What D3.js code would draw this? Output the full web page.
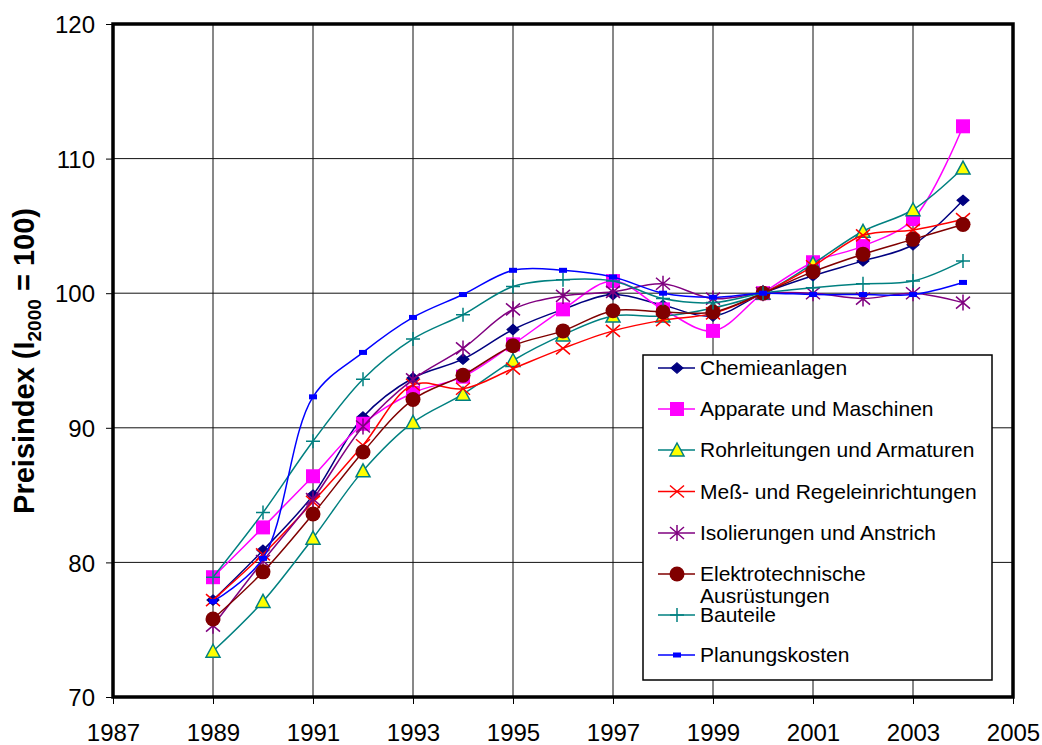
<!DOCTYPE html>
<html>
<head>
<meta charset="utf-8">
<script src="https://cdn.jsdelivr.net/npm/d3@7"></script>
<style>
body { margin: 0; background: #fff; }
text { font-family: "Liberation Sans", Arial, sans-serif; }
</style>
</head>
<body>
<div id="chart"></div>
<script>
// years and index values
var years = [1989,1990,1991,1992,1993,1994,1995,1996,1997,1998,1999,2000,2001,2002,2003,2004];

var chemieanlagen = [77.2,80.9,85.0,90.8,93.7,95.1,97.3,98.8,99.9,99.1,98.3,100,101.3,102.4,103.6,106.9];
var apparate      = [78.9,82.6,86.4,90.3,92.6,93.8,96.2,98.8,100.9,98.8,97.2,100,102.3,103.5,105.5,112.4];
var rohrleitungen = [73.4,77.1,81.8,86.8,90.4,92.5,95.0,96.9,98.3,98.3,98.9,100,102.2,104.6,106.2,109.3];
var messRegel     = [77.2,80.6,84.5,88.7,93.2,92.9,94.4,95.9,97.2,98.0,98.5,100,102.0,104.3,104.7,105.5];
var isolierungen  = [75.3,80.1,84.7,90.1,93.6,95.9,98.8,99.8,100.1,100.7,99.6,100,100.0,99.6,100.0,99.3];
var elektro       = [75.8,79.3,83.6,88.2,92.1,93.9,96.1,97.2,98.7,98.6,98.6,100,101.6,102.9,104.0,105.1];
var bauteile      = [78.9,83.7,89.0,93.6,96.6,98.4,100.5,101.0,100.9,99.6,99.3,100,100.4,100.7,100.9,102.4];
var planung       = [77.1,80.3,92.3,95.6,98.2,99.9,101.7,101.7,101.2,100.0,99.7,100,99.9,99.9,99.9,100.8];

var seriesNames = ["Chemieanlagen","Apparate und Maschinen","Rohrleitungen und Armaturen",
  "Meß- und Regeleinrichtungen","Isolierungen und Anstrich","Elektrotechnische\nAusrüstungen",
  "Bauteile","Planungskosten"];
var seriesValues = [chemieanlagen, apparate, rohrleitungen, messRegel, isolierungen, elektro, bauteile, planung];
var lineColors = ["#000080","#ff00ff","#008080","#ff0000","#800080","#800000","#008080","#0000ff"];
var markerTypes = ["diamond","square","triangle","x","star","circle","plus","dash"];

var xTicks = [1987,1989,1991,1993,1995,1997,1999,2001,2003,2005];
var yTicks = [70,80,90,100,110,120];

var width = 1042, height = 745;
var plotL = 113, plotR = 1013, plotT = 24, plotB = 697;

var svg = d3.select("#chart").append("svg")
  .attr("width", width)
  .attr("height", height);

var x = d3.scaleLinear().domain([1987, 2005]).range([plotL, plotR]);
var y = d3.scaleLinear().domain([70, 120]).range([plotB, plotT]);

// grid
svg.append("g").selectAll("line")
  .data(xTicks.slice(1, -1))
  .enter().append("line")
  .attr("x1", d => x(d)).attr("x2", d => x(d))
  .attr("y1", plotT).attr("y2", plotB)
  .attr("stroke", "#111").attr("stroke-width", 1);
svg.append("g").selectAll("line")
  .data(yTicks.slice(1, -1))
  .enter().append("line")
  .attr("x1", plotL).attr("x2", plotR)
  .attr("y1", d => y(d)).attr("y2", d => y(d))
  .attr("stroke", "#111").attr("stroke-width", 1);

// axes
var xAxis = d3.axisBottom(x).tickValues(xTicks).tickFormat(d3.format("d")).tickSize(7).tickSizeOuter(0);
var yAxis = d3.axisLeft(y).tickValues(yTicks).tickSize(7).tickSizeOuter(0);

var gx = svg.append("g").attr("transform", "translate(0," + plotB + ")").call(xAxis);
gx.select(".domain").remove();
gx.selectAll("text").attr("font-size", 24).attr("fill", "#000").attr("dy", 0).attr("y", 44)
  .attr("font-family", "Liberation Sans, Arial, sans-serif");
gx.selectAll("line").attr("stroke", "#000");

var gy = svg.append("g").attr("transform", "translate(" + plotL + ",0)").call(yAxis);
gy.select(".domain").remove();
gy.selectAll("text").attr("font-size", 24).attr("fill", "#000").attr("x", -18).attr("dy", "0.36em")
  .attr("font-family", "Liberation Sans, Arial, sans-serif");
gy.selectAll("line").attr("stroke", "#000");

// y title
var title = svg.append("text")
  .attr("transform", "translate(34,361) rotate(-90)")
  .attr("text-anchor", "middle")
  .attr("font-size", 29)
  .attr("font-weight", "bold");
title.append("tspan").text("Preisindex (I");
title.append("tspan").text("2000").attr("font-size", 19).attr("dy", 7);
title.append("tspan").text(" = 100)").attr("dy", -7);

function drawMarker(g, type, color, cx, cy) {
  if (type == "diamond") {
    g.append("path").attr("d", d3.symbol(d3.symbolDiamond2, 70)())
      .attr("transform", "translate(" + cx + "," + cy + ") scale(1.15,1)")
      .attr("fill", color).attr("stroke", color);
  } else if (type == "square") {
    g.append("rect").attr("x", cx - 7).attr("y", cy - 7).attr("width", 14).attr("height", 14)
      .attr("fill", color);
  } else if (type == "triangle") {
    g.append("path").attr("d", "M" + cx + "," + (cy - 7) + "L" + (cx + 7) + "," + (cy + 6) + "L" + (cx - 7) + "," + (cy + 6) + "Z")
      .attr("fill", "#ffff00").attr("stroke", color).attr("stroke-width", 1.5);
  } else if (type == "x") {
    g.append("path").attr("d", "M" + (cx - 7) + "," + (cy - 6) + "L" + (cx + 7) + "," + (cy + 6) + "M" + (cx - 7) + "," + (cy + 6) + "L" + (cx + 7) + "," + (cy - 6))
      .attr("stroke", color).attr("stroke-width", 1.5);
  } else if (type == "star") {
    g.append("path").attr("d", "M" + (cx - 7) + "," + (cy - 6) + "L" + (cx + 7) + "," + (cy + 6) + "M" + (cx - 7) + "," + (cy + 6) + "L" + (cx + 7) + "," + (cy - 6) + "M" + cx + "," + (cy - 8) + "L" + cx + "," + (cy + 8))
      .attr("stroke", color).attr("stroke-width", 1.5);
  } else if (type == "circle") {
    g.append("circle").attr("cx", cx).attr("cy", cy).attr("r", 7.5).attr("fill", color);
  } else if (type == "plus") {
    g.append("path").attr("d", "M" + (cx - 7) + "," + cy + "L" + (cx + 7) + "," + cy + "M" + cx + "," + (cy - 7) + "L" + cx + "," + (cy + 7))
      .attr("stroke", color).attr("stroke-width", 1.5);
  } else if (type == "dash") {
    g.append("rect").attr("x", cx - 4).attr("y", cy - 2.5).attr("width", 8).attr("height", 5)
      .attr("fill", color);
  }
}

var line = d3.line()
  .x((d, i) => x(years[i]))
  .y(d => y(d))
  .curve(d3.curveCatmullRom.alpha(0.5));

seriesValues.forEach(function(vals, s) {
  var g = svg.append("g");
  g.append("path").datum(vals)
    .attr("d", line)
    .attr("fill", "none")
    .attr("stroke", lineColors[s])
    .attr("stroke-width", 1.5);
  vals.forEach(function(v, i) {
    drawMarker(g, markerTypes[s], lineColors[s], x(years[i]), y(v));
  });
});

// frame
svg.append("rect")
  .attr("x", plotL).attr("y", plotT)
  .attr("width", plotR - plotL).attr("height", plotB - plotT)
  .attr("fill", "none").attr("stroke", "#000").attr("stroke-width", 3.5);

// legend
var legRows = [368, 409, 450, 491.5, 533, 574, 615, 655];
var lg = svg.append("g");
lg.append("rect")
  .attr("x", 643).attr("y", 355).attr("width", 349).attr("height", 325)
  .attr("fill", "#fff").attr("stroke", "#000").attr("stroke-width", 1.5);

seriesNames.forEach(function(name, s) {
  var ry = legRows[s];
  lg.append("line").attr("x1", 658).attr("x2", 695).attr("y1", ry).attr("y2", ry)
    .attr("stroke", lineColors[s]).attr("stroke-width", 1.5);
  drawMarker(lg, markerTypes[s], lineColors[s], 677, ry);
  var parts = name.split("\n");
  parts.forEach(function(p, k) {
    lg.append("text")
      .attr("x", 700).attr("y", ry + k * 22)
      .attr("dy", "0.35em")
      .attr("font-size", 21)
      .text(p);
  });
});
</script>
</body>
</html>
